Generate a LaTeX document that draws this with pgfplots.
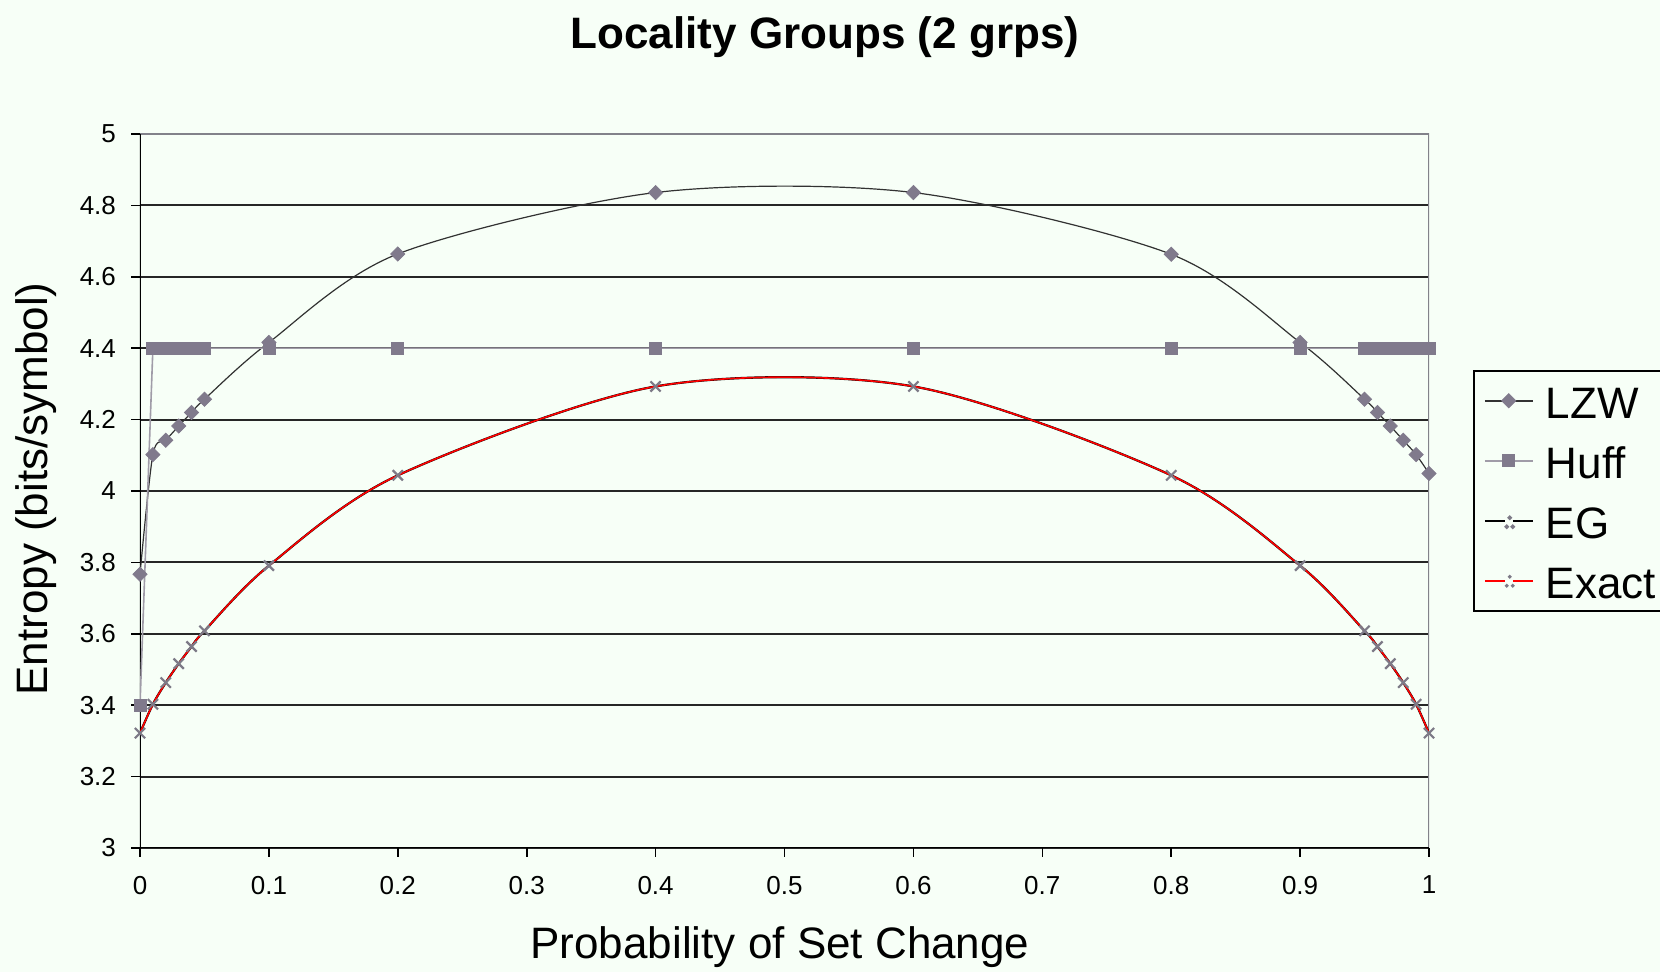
\documentclass[border=0pt]{standalone}
\usepackage{pgfplots}
\pgfplotsset{compat=1.18}
\usepackage{fontspec}
\setmainfont{Liberation Sans}

\definecolor{bg}{RGB}{247,255,247}
\definecolor{markgray}{RGB}{128,122,140}
\definecolor{huffline}{RGB}{160,156,168}
\definecolor{lzwline}{RGB}{50,50,50}
\definecolor{borderg}{RGB}{130,130,138}
\definecolor{xmark}{RGB}{125,122,135}

% Measured entropies for the two-group locality model
\pgfplotstableread{
p     h
0     3.767
0.01  4.102
0.02  4.142
0.03  4.182
0.04  4.220
0.05  4.257
0.1   4.416
0.2   4.664
0.4   4.836
0.6   4.836
0.8   4.663
0.9   4.416
0.95  4.257
0.96  4.220
0.97  4.182
0.98  4.142
0.99  4.102
1     4.049
}\lzwdata

\pgfplotstableread{
p     h
0     3.40
0.01  4.40
0.02  4.40
0.03  4.40
0.04  4.40
0.05  4.40
0.1   4.40
0.2   4.40
0.4   4.40
0.6   4.40
0.8   4.40
0.9   4.40
0.95  4.40
0.96  4.40
0.97  4.40
0.98  4.40
0.99  4.40
1     4.40
}\huffdata

\pgfplotstableread{
p     h
0     3.3219
0.01  3.4027
0.02  3.4633
0.03  3.5163
0.04  3.5642
0.05  3.6083
0.1   3.7909
0.2   4.0438
0.4   4.2929
0.6   4.2929
0.8   4.0438
0.9   3.7909
0.95  3.6083
0.96  3.5642
0.97  3.5163
0.98  3.4633
0.99  3.4027
1     3.3219
}\exactdata

\begin{document}
\begin{tikzpicture}
\fill[bg] (-70pt,-62pt) rectangle (760pt,424pt);
\path[use as bounding box] (-70pt,-62pt) rectangle (760pt,424pt);
\begin{axis}[
  at={(0pt,0pt)}, anchor=south west,
  scale only axis, width=644.5pt, height=357pt,
  xmin=0, xmax=1, ymin=3, ymax=5,
  xtick={0,0.1,0.2,0.3,0.4,0.5,0.6,0.7,0.8,0.9,1},
  xticklabels={0,0.1,0.2,0.3,0.4,0.5,0.6,0.7,0.8,0.9,1},
  ytick={3,3.2,3.4,3.6,3.8,4,4.2,4.4,4.6,4.8,5},
  yticklabels={3,3.2,3.4,3.6,3.8,4,4.2,4.4,4.6,4.8,5},
  axis line style={draw=none},
  tick pos=left, tick align=outside,
  major tick length=4.5pt,
  every tick/.style={black, line width=0.8pt},
  ymajorgrids,
  grid style={black!85, line width=1pt},
  /pgf/number format/assume math mode=true,
  ticklabel style={font=\fontsize{13}{15}\selectfont},
  yticklabel style={xshift=-4pt},
  xticklabel style={yshift=-6pt},
  legend style={
    at={(1.0341,0.6695)}, anchor=north west,
    draw=black, line width=0.8pt, fill=bg,
    font=\fontsize{22}{26}\selectfont,
    inner xsep=5pt, inner ysep=2pt,
    row sep=4pt, column sep=6pt,
    nodes={inner sep=0pt, text height=22pt, text depth=4pt},
  },
  legend cell align=left,
  legend image code/.code={
    \draw[mark repeat=2,mark phase=2, line width=1pt]
      plot coordinates {(0pt,0pt)(12pt,0pt)(24pt,0pt)};
  },
]
% plot frame: black left and bottom axes, grey top and right edges
\draw[borderg, line width=1pt] (rel axis cs:0,1) -- (rel axis cs:1,1) -- (rel axis cs:1,0);
\draw[black, line width=1pt] (rel axis cs:0,1) -- (rel axis cs:0,0);
\draw[black, line width=1.3pt] (rel axis cs:0,0) -- (rel axis cs:1,0);

\addplot[lzwline, line width=0.6pt, smooth,
  mark=square*, mark size=2.5pt,
  mark options={solid, rotate=45, fill=markgray, draw=markgray, line width=0.4pt}]
  table[x=p, y=h] {\lzwdata};
\addlegendentry{LZW}

\addplot[huffline, line width=0.8pt,
  mark=square*, mark size=3pt,
  mark options={fill=markgray, draw=markgray, line width=0.4pt}]
  table[x=p, y=h] {\huffdata};
\addlegendentry{Huff}

\addplot[black, line width=1.1pt, smooth, mark=none,
  legend image code/.code={
    \draw[black, line width=1pt] (0pt,0pt) -- (10pt,0pt) (14pt,0pt) -- (24pt,0pt);
    \fill[xmark] (11pt,-3pt) circle (0.5pt) (12.5pt,1.5pt) circle (0.5pt) (14pt,-3pt) circle (0.5pt);
  }]
  table[x=p, y=h] {\exactdata};
\addlegendentry{EG}

\addplot[red, line width=0.8pt, smooth,
  mark=x, mark size=3.6pt,
  mark options={xmark, line width=1.1pt},
  legend image code/.code={
    \draw[red, line width=1pt] (0pt,0pt) -- (10pt,0pt) (14pt,0pt) -- (24pt,0pt);
    \fill[xmark] (11pt,-2.5pt) circle (0.5pt) (12.5pt,2pt) circle (0.5pt) (14pt,-2.5pt) circle (0.5pt);
  }]
  table[x=p, y=h] {\exactdata};
\addlegendentry{Exact}
\end{axis}

\node[font=\fontsize{22}{26}\selectfont\bfseries] at (342.5pt,405.5pt) {Locality Groups (2 grps)};
\node[font=\fontsize{22}{26}\selectfont] at (320pt,-49.5pt) {Probability of Set Change};
\node[font=\fontsize{22}{26}\selectfont, rotate=90] at (-52pt,179.5pt) {Entropy (bits/symbol)};
\end{tikzpicture}
\end{document}
